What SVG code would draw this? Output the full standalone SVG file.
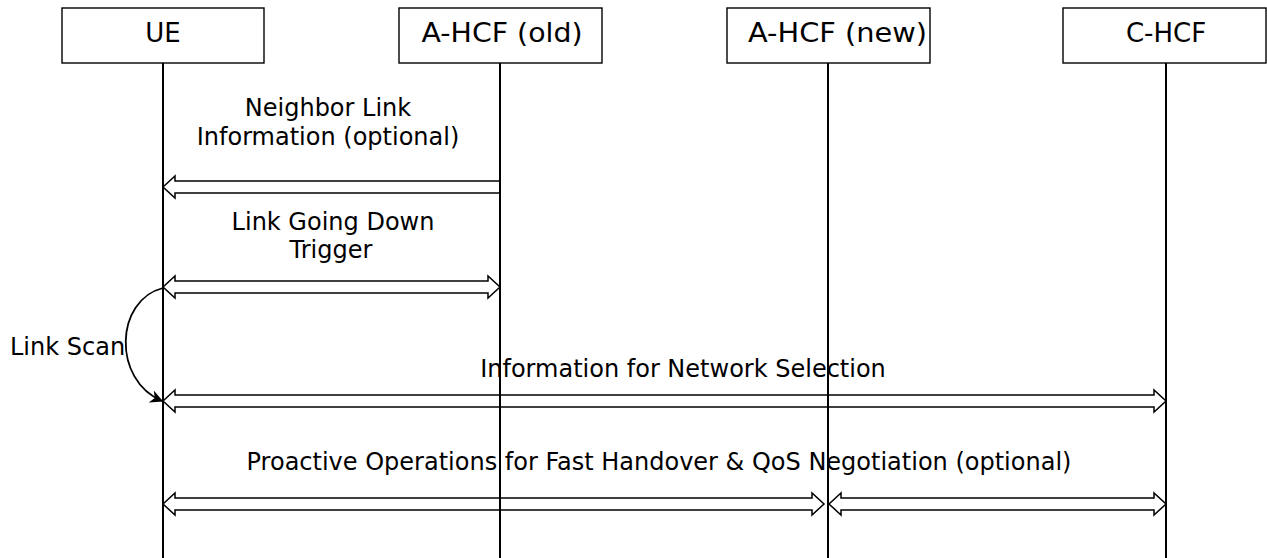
<svg xmlns="http://www.w3.org/2000/svg" width="1267" height="558" viewBox="0 0 1267 558">
<style>
.box{fill:#fff;stroke:#000;stroke-width:1.4}
.life{stroke:#000;stroke-width:2}
.blk{fill:#fff;stroke:#000;stroke-width:1.5;stroke-linejoin:miter}
.lbl{font-family:"DejaVu Sans",Verdana,sans-serif;font-size:26px;fill:#000;text-anchor:middle}
.msg{font-family:"DejaVu Sans",Verdana,sans-serif;font-size:24px;fill:#000;text-anchor:middle}
</style>
<defs>
<marker id="ah" viewBox="0 0 10 10" refX="9" refY="5" markerWidth="13" markerHeight="13" markerUnits="userSpaceOnUse" orient="auto">
<path d="M0,0 L10,5 L0,10 L3,5 Z" fill="#000"/>
</marker>
</defs>
<rect width="1267" height="558" fill="#fff"/>
<g id="connectors">
<polygon class="blk" points="163,187 175,176 175,181 500,181 500,193 175,193 175,198"/>
<polygon class="blk" points="163,287 175,276 175,281 488,281 488,276 500,287 488,298 488,293 175,293 175,298"/>
<polygon class="blk" points="163,401 175,390 175,395 1154,395 1154,390 1166,401 1154,412 1154,407 175,407 175,412"/>
<polygon class="blk" points="163,504 175,493 175,498 812,498 812,493 824,504 812,515 812,510 175,510 175,515"/>
<polygon class="blk" points="829,504 841,493 841,498 1154,498 1154,493 1166,504 1154,515 1154,510 841,510 841,515"/>
<path d="M163,288 C115,300 112,380 162,401" fill="none" stroke="#000" stroke-width="1.8" marker-end="url(#ah)"/>
<text class="msg" x="328" y="116">Neighbor Link</text>
<text class="msg" x="328" y="145">Information (optional)</text>
<text class="msg" x="333" y="230">Link Going Down</text>
<text class="msg" x="331" y="258">Trigger</text>
<text class="msg" x="10" y="355" style="text-anchor:start">Link Scan</text>
<text class="msg" x="683" y="377">Information for Network Selection</text>
<text class="msg" x="659" y="470">Proactive Operations for Fast Handover &amp; QoS Negotiation (optional)</text>
</g>
<g id="ue">
<rect class="box" x="62" y="8" width="202" height="55"/>
<line class="life" x1="163" y1="63" x2="163" y2="558"/>
<text class="lbl" x="163" y="42">UE</text>
</g>
<g id="ahcf-old">
<rect class="box" x="399" y="8" width="203" height="55"/>
<line class="life" x1="500" y1="63" x2="500" y2="558"/>
<text class="lbl" x="502" y="42" textLength="161" lengthAdjust="spacingAndGlyphs">A-HCF (old)</text>
</g>
<g id="ahcf-new">
<rect class="box" x="727" y="8" width="203" height="55"/>
<line class="life" x1="828" y1="63" x2="828" y2="558"/>
<text class="lbl" x="748" y="42" style="text-anchor:start" textLength="179" lengthAdjust="spacingAndGlyphs">A-HCF (new)</text>
</g>
<g id="c-hcf">
<rect class="box" x="1063" y="8" width="203" height="55"/>
<line class="life" x1="1166" y1="63" x2="1166" y2="558"/>
<text class="lbl" x="1166" y="42">C-HCF</text>
</g>
</svg>
